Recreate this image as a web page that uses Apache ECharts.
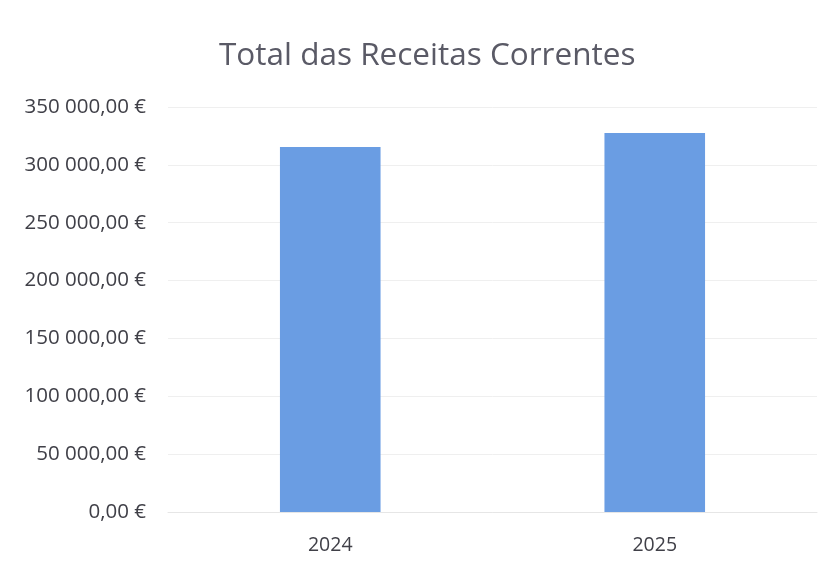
<!DOCTYPE html>
<html>
<head>
<meta charset="utf-8">
<script src="https://cdn.jsdelivr.net/npm/echarts@6/dist/echarts.min.js"></script>
<style>
  html, body { margin: 0; padding: 0; background: #fff; }
  #main { width: 832px; height: 567px; }
</style>
</head>
<body>
<div id="main"></div>
<script>
// values
var years = ['2024', '2025']
var receitas = [315400, 327500]

function euro (v) {
  var s = Math.round(v).toString().replace(/\B(?=(\d{3})+(?!\d))/g, ' ')
  return s + ',00 €'
}

var chart = echarts.init(document.getElementById('main'))
chart.setOption({
  backgroundColor: '#ffffff',
  textStyle: { fontFamily: 'Open Sans, Noto Sans, sans-serif' },
  title: {
    text: 'Total das Receitas Correntes',
    left: 214,
    top: 35,
    textStyle: { fontSize: 31.5, fontWeight: 'normal', color: '#5a5a66' }
  },
  grid: { left: 168, right: 15, top: 107, bottom: 55 },
  xAxis: {
    type: 'category',
    data: years,
    axisTick: { show: false },
    axisLine: { lineStyle: { color: '#e6e6e6' } },
    axisLabel: { fontSize: 19.5, color: '#404048', margin: 23 }
  },
  yAxis: {
    type: 'value',
    min: 0,
    max: 350000,
    interval: 50000,
    axisLabel: { fontSize: 20.5, color: '#404048', margin: 22, formatter: euro },
    splitLine: { lineStyle: { color: '#efefef' } }
  },
  series: [
    {
      type: 'bar',
      data: receitas,
      barWidth: '31%',
      itemStyle: { color: '#6a9de3' }
    }
  ]
})
</script>
</body>
</html>
